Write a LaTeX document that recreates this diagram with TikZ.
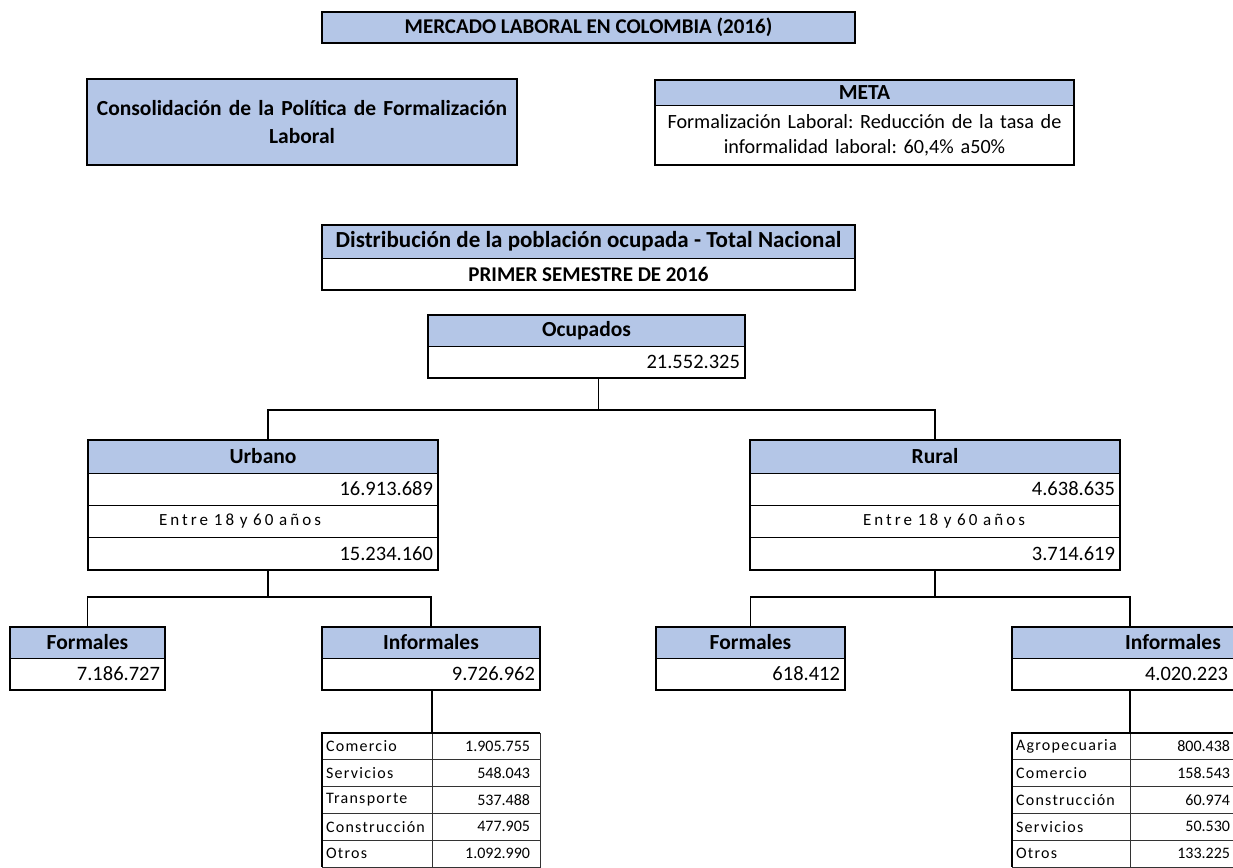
\documentclass[tikz,border=0pt]{standalone}
\usepackage{fontspec}
\setmainfont{Carlito}
\usetikzlibrary{positioning}
\frenchspacing
\definecolor{hdrblue}{RGB}{180,198,231}
\tikzset{
  cell/.style={draw=black, line width=1pt, outer sep=0pt, inner xsep=5pt, inner ysep=0pt, anchor=north west, font=\fontsize{20.5}{22}\selectfont},
  hdr/.style={cell, fill=hdrblue, align=center, font=\bfseries\fontsize{21.5}{23}\selectfont},
  num/.style={cell, align=right},
  frame/.style={draw=black, line width=2.6pt},
  link/.style={draw=black, line width=1.5pt},
  tabcell/.style={draw=black!80, line width=0.8pt, outer sep=0pt, inner xsep=4pt, inner ysep=0pt, anchor=north west, minimum height=26.8pt, font=\fontsize{16}{18}\selectfont},
  spaced/.style={font=\fontsize{16}{18}\selectfont\addfontfeature{LetterSpace=8}},
  wide/.style={font=\fontsize{17}{18}\selectfont\addfontfeature{LetterSpace=18}}
}

\begin{document}
\begin{tikzpicture}[x=1pt, y=-1pt]
\useasboundingbox (0,0) rectangle (1233,867);

% encabezado
\node[hdr, frame, minimum width=533pt, minimum height=31pt, font=\bfseries\fontsize{21}{23}\selectfont] (titulo) at (322,12) {MERCADO LABORAL EN COLOMBIA (2016)};

\node[hdr, frame, minimum width=430pt, minimum height=86pt, text width=420pt, font=\bfseries\fontsize{21.5}{28}\selectfont] (politica) at (87,79) {Consolidación de la Política de Formalización\\Laboral};

\node[hdr, minimum width=419pt, minimum height=25pt] (meta) at (655,80) {META};
\node[cell, minimum width=419pt, minimum height=60pt, text width=409pt, align=center, font=\fontsize{20.2}{25}\selectfont, below=0pt of meta] (metatxt) {Formalización Laboral: Reducción de la tasa de\\informalidad laboral: 60,4\% a50\%};
\draw[frame] (meta.north west) rectangle (metatxt.south east);

\node[hdr, minimum width=533pt, minimum height=33pt, font=\bfseries\fontsize{23}{25}\selectfont] (dist) at (322,225) {Distribución de la población ocupada - Total Nacional};
\node[cell, minimum width=533pt, minimum height=32pt, font=\bfseries\fontsize{21}{23}\selectfont, below=0pt of dist] (semestre) {PRIMER SEMESTRE DE 2016};
\draw[frame] (dist.north west) rectangle (semestre.south east);

% ocupados
\node[hdr, minimum width=317pt, minimum height=31pt] (ocup) at (428,315) {Ocupados};
\node[num, text width=307pt, minimum height=32pt, below=0pt of ocup] (ocupval) {21.552.325};
\draw[frame] (ocup.north west) rectangle (ocupval.south east);

% urbano / rural
\node[hdr, minimum width=350pt, minimum height=33pt] (urb) at (88,440) {Urbano};
\node[num, text width=340pt, minimum height=32pt, below=0pt of urb] (urbtot) {16.913.689};
\node[cell, wide, minimum width=350pt, minimum height=32pt, text width=340pt, align=left, below=0pt of urbtot] (urbedad) {\hspace*{66pt}Entre 18 y 60 años};
\node[num, text width=340pt, minimum height=33pt, below=0pt of urbedad] (urbval) {15.234.160};
\draw[frame] (urb.north west) rectangle (urbval.south east);

\node[hdr, minimum width=370pt, minimum height=33pt] (rur) at (750,440) {Rural};
\node[num, text width=360pt, minimum height=32pt, below=0pt of rur] (rurtot) {4.638.635};
\node[cell, wide, minimum width=370pt, minimum height=32pt, text width=360pt, align=left, below=0pt of rurtot] (ruredad) {\hspace*{108pt}Entre 18 y 60 años};
\node[num, text width=360pt, minimum height=33pt, below=0pt of ruredad] (rurval) {3.714.619};
\draw[frame] (rur.north west) rectangle (rurval.south east);

% formales / informales
\node[hdr, minimum width=155pt, minimum height=31pt] (formL) at (10,627) {Formales};
\node[num, text width=145pt, minimum height=32pt, below=0pt of formL] (formLval) {7.186.727};
\draw[frame] (formL.north west) rectangle (formLval.south east);

\node[hdr, minimum width=218pt, minimum height=31pt] (infL) at (322,627) {Informales};
\node[num, text width=208pt, minimum height=32pt, below=0pt of infL] (infLval) {9.726.962};
\draw[frame] (infL.north west) rectangle (infLval.south east);

\node[hdr, minimum width=189pt, minimum height=31pt] (formR) at (656,627) {Formales};
\node[num, text width=179pt, minimum height=32pt, below=0pt of formR] (formRval) {618.412};
\draw[frame] (formR.north west) rectangle (formRval.south east);

\node[hdr, minimum width=322pt, minimum height=31pt] (infR) at (1012,627) {Informales};
\node[cell, text width=312pt, minimum height=32pt, align=left, below=0pt of infR] (infRval) {\hspace*{128pt}4.020.223};
\draw[frame] (infR.north west) rectangle (infRval.south east);

% tablas por rama
\foreach \lab/\val [count=\i] in {Comercio/1.905.755, Servicios/548.043, Transporte/537.488, Construcción/477.905, Otros/1.092.990} {
  \node[tabcell, text width=102pt, align=left, spaced] (tlabL\i) at (322,{733+26.8*(\i-1)}) {\lab};
  \node[tabcell, inner xsep=10pt, text width=88pt, align=right] (tvalL\i) at (432,{733+26.8*(\i-1)}) {\val};
}
\draw[frame] (tlabL5.south west) |- (tvalL1.north east);

\foreach \lab/\val [count=\i] in {Agropecuaria/800.438, Comercio/158.543, Construcción/60.974, Servicios/50.530, Otros/133.225} {
  \node[tabcell, text width=110pt, align=left, spaced] (tlabR\i) at (1012,{733+26.8*(\i-1)}) {\lab};
  \node[tabcell, text width=96pt, align=right] (tvalR\i) at (1130,{733+26.8*(\i-1)}) {\val};
}
\draw[frame] (tlabR5.south west) |- (tvalR1.north east);

% conectores
\draw[link] ([xshift=12pt]ocupval.south) -- ++(0,32) coordinate (ocupsplit);
\draw[link] ([xshift=5pt]urb.north) |- (ocupsplit) -| (rur.north);

\draw[link] ([xshift=5pt]urbval.south) -- ++(0,27) coordinate (urbsplit);
\draw[link] (formL.north) |- (urbsplit) -| (infL.north);

\draw[link] (rurval.south) -- ++(0,27) coordinate (rursplit);
\draw[link] (formR.north) |- (rursplit) -| (infR.north -| tvalR1.west);

\draw[link] (infLval.south -| tvalL1.west) -- (tvalL1.north west);
\draw[link] (infRval.south -| tvalR1.west) -- (tvalR1.north west);
\end{tikzpicture}
\end{document}
